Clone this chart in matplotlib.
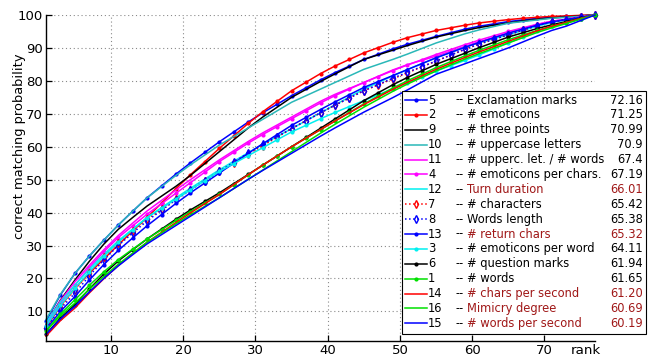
import matplotlib
matplotlib.use("Agg")
import matplotlib.pyplot as plt
from matplotlib.patches import Rectangle

# ---- data (every second rank) ----
ranks = list(range(1, 78, 2))

exclamation_marks = [7, 15.0, 21.5, 26.8, 31.6, 36.2, 40.4, 44.5, 48.1, 51.7, 55.1, 58.3, 61.5, 64.5, 67.5, 70.3,
                     72.9, 75.5, 77.9, 80.3, 82.5, 84.5, 86.5, 88.1, 89.7, 91.1, 92.3, 93.5, 94.6, 95.7, 96.6, 97.3,
                     98.0, 98.5, 99.0, 99.4, 99.6, 99.8, 100]
emoticons = [5, 11.6, 17, 21.6, 25.9, 30.2, 34.4, 38.5, 42.9, 47.3, 51.5, 55.5, 59.5, 63.3, 67.1, 70.6,
             73.8, 77, 79.6, 82.2, 84.5, 86.5, 88.5, 90.1, 91.7, 93.1, 94.2, 95.3, 96.1, 96.9, 97.6, 98.1,
             98.6, 99.0, 99.3, 99.6, 99.7, 99.9, 100]
three_points = [6, 13.4, 19.5, 25.2, 30.4, 34.9, 38.5, 42, 45, 48, 51.3, 54.9, 58.5, 62.1, 65.7, 69,
                72, 75, 77.4, 79.8, 82.1, 84.3, 86.5, 87.9, 89.3, 90.7, 92, 93.3, 94.3, 95.3, 96.2, 96.9,
                97.6, 98.2, 98.7, 99.1, 99.4, 99.7, 100]
uppercase_letters = [7.5, 15.2, 21.5, 26.8, 31.6, 36.2, 40.4, 44.5, 47.9, 51.3, 54.5, 57.5, 60.5, 63.1, 65.7, 68.3,
                     70.9, 73.5, 75.5, 77.5, 79.5, 81.5, 83.5, 85, 86.5, 88.1, 89.8, 91.5, 92.9, 94.3, 95.5, 96.5,
                     97.5, 98, 98.5, 99.0, 99.3, 99.6, 100]
upper_per_word = [6, 13.2, 19, 24, 28.7, 33, 36.8, 40.5, 43.7, 46.9, 50, 53, 56, 58.8, 61.6, 64.2,
                  66.6, 69, 71.4, 73.8, 75.9, 77.7, 79.5, 81.4, 83.3, 84.9, 86.2, 87.5, 89, 90.5, 91.9, 93.2,
                  94.5, 95.8, 97.1, 98.1, 98.7, 99.4, 100]
emoticons_per_char = [5.5, 12.4, 18, 23.3, 28.1, 32.4, 36, 39.5, 42.7, 45.9, 49.1, 52.3, 55.5, 58.3, 61.1, 63.7,
                      66.1, 68.5, 70.9, 73.3, 75.5, 77.5, 79.5, 81.3, 83.1, 84.8, 86.4, 88, 89.5, 91, 92.4, 93.7,
                      95, 96.1, 97.2, 98.1, 98.7, 99.4, 100]
turn_duration = [6.5, 12.8, 18, 22.8, 27.3, 31.4, 35, 38.5, 41.5, 44.5, 47.4, 50.2, 53, 55.6, 58.2, 60.7,
                 63.1, 65.5, 67.9, 70.3, 72.7, 75.1, 77.5, 79.5, 81.5, 83.4, 85.2, 87, 88.6, 90.2, 91.6, 92.8,
                 94, 95.3, 96.6, 97.7, 98.5, 99.2, 100]
characters = [5, 11.3, 16.5, 21.8, 26.6, 30.9, 34.5, 38, 41, 44, 46.9, 49.7, 52.5, 55.1, 57.7, 60.3,
              62.9, 65.5, 67.9, 70.3, 72.6, 74.8, 77, 78.8, 80.6, 82.4, 84.2, 86, 87.8, 89.6, 91.2, 92.6,
              94, 95.4, 96.8, 97.9, 98.6, 99.3, 100]
words_length = [5, 10.8, 15.5, 20.8, 25.6, 30, 33.8, 37.5, 40.7, 43.9, 46.9, 49.7, 52.5, 55.3, 58.1, 60.7,
                63.1, 65.5, 67.9, 70.3, 72.6, 74.8, 77, 78.9, 80.8, 82.6, 84.3, 86, 87.8, 89.6, 91.2, 92.6,
                94, 95.4, 96.8, 97.9, 98.6, 99.3, 100]
return_chars = [4.5, 10, 14.5, 19.5, 24.2, 28.5, 32.3, 36, 39.4, 42.8, 46, 49, 52, 55, 58, 60.9,
                63.7, 66.5, 68.9, 71.3, 73.6, 75.8, 78, 79.8, 81.6, 83.4, 85.2, 87, 88.6, 90.2, 91.7, 93.1,
                94.5, 95.7, 96.9, 97.9, 98.6, 99.3, 100]
emoticons_per_word = [5.5, 11.8, 17, 22, 26.7, 31, 34.8, 38.5, 41.3, 44.1, 46.9, 49.7, 52.5, 54.9, 57.3, 59.7,
                      62.1, 64.5, 66.5, 68.5, 70.4, 72.2, 74, 75.8, 77.6, 79.4, 81.2, 83, 84.6, 86.2, 87.9, 89.7,
                      91.5, 93.3, 95.1, 96.6, 97.7, 98.9, 100]
question_marks = [3, 8, 12, 16.8, 21.3, 25.3, 28.7, 32, 35, 38, 40.8, 43.4, 46, 48.8, 51.6, 54.4,
                  57.2, 60, 62.8, 65.6, 68.4, 71.2, 74, 76.4, 78.8, 81, 83, 85, 86.7, 88.4, 90.1, 91.7,
                  93.3, 94.6, 95.9, 97, 98, 99, 100]
words = [4, 9.2, 13.5, 17.9, 22, 25.7, 28.9, 32, 34.8, 37.6, 40.3, 42.9, 45.5, 48.5, 51.5, 54.4,
         57.2, 60, 62.6, 65.2, 67.8, 70.4, 73, 75.4, 77.8, 80, 82, 84, 85.8, 87.6, 89.3, 90.9,
         92.5, 93.9, 95.3, 96.6, 97.7, 98.9, 100]
chars_per_second = [2.5, 7.2, 11, 15.6, 19.9, 23.9, 27.5, 31, 34, 37, 39.9, 42.7, 45.5, 48.5, 51.5, 54.4,
                    57.2, 60, 62.6, 65.2, 67.8, 70.3, 72.8, 75.1, 77.4, 79.5, 81.5, 83.5, 85.3, 87.1, 88.8, 90.4,
                    92, 93.6, 95.2, 96.6, 97.7, 98.9, 100]
mimicry_degree = [4, 8.7, 12.5, 16.7, 20.6, 24.3, 27.7, 31, 33.8, 36.6, 39.3, 41.9, 44.5, 47.3, 50.1, 52.9,
                  55.7, 58.5, 61.3, 64.1, 66.8, 69.4, 72, 74.4, 76.8, 79, 81, 83, 84.8, 86.6, 88.3, 89.9,
                  91.5, 93.1, 94.7, 96.1, 97.4, 98.7, 100]
words_per_second = [3, 7.7, 11.5, 15.9, 20, 23.8, 27.2, 30.5, 33.3, 36.1, 38.9, 41.7, 44.5, 47.3, 50.1, 52.8,
                    55.4, 58, 60.6, 63.2, 65.7, 68.1, 70.5, 72.7, 74.9, 77.2, 79.6, 82, 83.6, 85.2, 86.8, 88.4,
                    90, 91.8, 93.6, 95.3, 96.6, 98.3, 100]

feature_ids = ["5", "2", "9", "10", "11", "4", "12", "7", "8", "13", "3", "6", "1", "14", "16", "15"]
feature_names = ["Exclamation marks", "# emoticons", "# three points", "# uppercase letters",
                 "# upperc. let. / # words", "# emoticons per chars.", "Turn duration", "# characters",
                 "Words length", "# return chars", "# emoticons per word", "# question marks", "# words",
                 "# chars per second", "Mimicry degree", "# words per second"]
auc_labels = ["72.16", "71.25", "70.99", "70.9", "67.4", "67.19", "66.01", "65.42",
              "65.38", "65.32", "64.11", "61.94", "61.65", "61.20", "60.69", "60.19"]
highlighted = ["12", "13", "14", "16", "15"]

series = [exclamation_marks, emoticons, three_points, uppercase_letters, upper_per_word,
          emoticons_per_char, turn_duration, characters, words_length, return_chars,
          emoticons_per_word, question_marks, words, chars_per_second, mimicry_degree,
          words_per_second]

# ---- styles ----
BLUE, RED, BLACK = "#0000ff", "#ff0000", "#000000"
TEAL, MAGENTA, CYAN, GREEN = "#2ab8b8", "#ff00ff", "#00f0f0", "#00e000"
DARK_RED = "#a01818"
styles = [
    dict(color=BLUE, marker="."), dict(color=RED, marker="."), dict(color=BLACK),
    dict(color=TEAL), dict(color=MAGENTA), dict(color=MAGENTA, marker="."),
    dict(color=CYAN), dict(color=RED, ls=":", marker="d", mfc="none"),
    dict(color=BLUE, ls=":", marker="d", mfc="none"), dict(color=BLUE, marker="."),
    dict(color=CYAN, marker="."), dict(color=BLACK, marker="."), dict(color=GREEN, marker="."),
    dict(color=RED), dict(color=GREEN), dict(color=BLUE),
]


def line_kw(st):
    kw = dict(lw=1.1, ms=4)
    if st.get("marker") == "d":
        kw.update(ms=4, mew=1.0)
    kw.update(st)
    return kw


W, H = 663, 358
fig = plt.figure(figsize=(W / 100, H / 100), dpi=100)
ax = fig.add_axes([46 / W, 1 - 341 / H, (595 - 46) / W, (341 - 15) / H])

for vals, st in zip(series, styles):
    ax.plot(ranks, vals, clip_on=False, **line_kw(st))

ax.set_xlim(1, 77)
ax.set_ylim(1, 100)
ax.set_xticks(range(10, 71, 10))
ax.set_yticks(range(10, 101, 10))
ax.tick_params(direction="in", length=4, width=0.9, labelsize=9.5, pad=2)
ax.grid(True, ls=(0, (1, 2.5)), color="#8a8a8a", lw=0.8)
for s in ("top", "right"):
    ax.spines[s].set_visible(False)
for s in ("left", "bottom"):
    ax.spines[s].set_linewidth(1.0)

fig.text(20 / W, 1 - 146 / H, "correct matching probability", rotation=90,
         ha="center", va="center", fontsize=9.4)
fig.text(586 / W, 1 - 350 / H, "rank", ha="center", va="center", fontsize=9.6)

# ---- legend, drawn by hand in pixel coordinates ----
lg = fig.add_axes([0, 0, 1, 1], zorder=5)
lg.set_xlim(0, W)
lg.set_ylim(H, 0)
lg.axis("off")
lg.add_patch(Rectangle((402, 91), 244, 243, fc="white", ec="black", lw=0.8))
for i, (fid, name, auc, st) in enumerate(zip(feature_ids, feature_names, auc_labels, styles)):
    y = 100 + i * 14.89
    kw = line_kw(st)
    lg.plot([405, 427], [y, y], **{k: v for k, v in kw.items() if k != "marker"})
    if "marker" in st:
        lg.plot([416], [y], ls="none", **{k: v for k, v in kw.items() if k != "ls"})
    tc = DARK_RED if fid in highlighted else "black"
    lg.text(428, y, fid, va="center", ha="left", fontsize=8.3)
    lg.text(455, y, "--", va="center", ha="left", fontsize=8.3)
    lg.text(467, y, name, va="center", ha="left", fontsize=8.3, color=tc)
    lg.text(643, y, auc, va="center", ha="right", fontsize=8.3, color=tc)

fig.savefig("out.png", dpi=100)
